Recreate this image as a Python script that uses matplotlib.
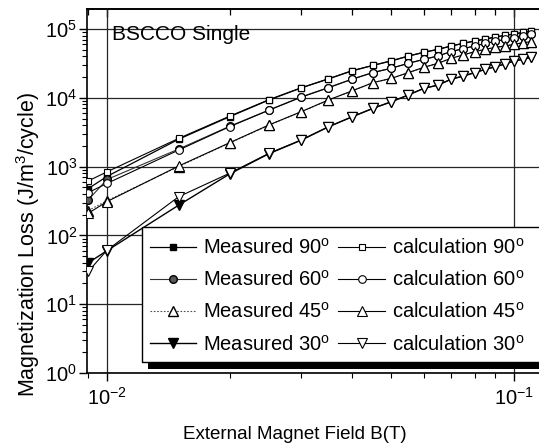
import numpy as np
import matplotlib
matplotlib.use("Agg")
import matplotlib.pyplot as plt
from matplotlib.patches import Rectangle
from matplotlib.ticker import LogLocator, NullFormatter

plt.rcParams['font.family'] = ['Liberation Sans', 'DejaVu Sans']
plt.rcParams['mathtext.fontset'] = 'custom'
plt.rcParams['mathtext.rm'] = 'Liberation Sans'
plt.rcParams['mathtext.it'] = 'Liberation Sans:italic'
plt.rcParams['mathtext.bf'] = 'Liberation Sans:bold'

# data
field = [0.009, 0.01, 0.015, 0.02, 0.025, 0.03, 0.035, 0.04, 0.045, 0.05, 0.055,
         0.06, 0.065, 0.07, 0.075, 0.08, 0.085, 0.09, 0.095, 0.1, 0.105, 0.11]

calc_90 = [620, 840, 2570, 5400, 9400, 14000, 18900, 24800, 29600, 34600, 40500,
           45900, 50700, 56600, 62000, 67000, 71600, 76500, 80900, 84500, 89200, 93400]
calc_60 = [420, 570, 1740, 3800, 6600, 10200, 14000, 18600, 23200, 26900, 31700,
           36100, 40500, 46800, 51700, 56600, 61700, 66000, 70600, 74800, 79600, 84500]
calc_45 = [210, 310, 1020, 2220, 4030, 6280, 9300, 12600, 16600, 19200, 23200,
           27700, 31700, 37500, 41900, 46800, 50700, 54100, 56600, 59800, 63100, 65300]
calc_30 = [30, 61, 365, 800, 1560, 2440, 3800, 5300, 7030, 8780, 11000,
           13700, 15300, 18600, 20700, 23200, 25900, 28300, 31000, 34300, 36200, 38600]

meas_90 = [480, 720, 2500, 5300, 9300, 13900, 18800, 24600, 29500, 34400, 40300,
           45700, 50500, 56400, 61800, 66800, 71400, 76300, 80700, 84300, 89000, 93200]
meas_60 = [330, 650, 1800, 3850, 6650, 10300, 14100, 18700, 23300, 27000, 31800,
           36200, 40600, 46900, 51800, 56700, 61800, 66100, 70700, 74900, 79700, 84600]
meas_45 = [230, 320, 1000, 2200, 4000, 6250, 9250, 12550, 16550, 19150, 23150,
           27650, 31650, 37450, 41850, 46750, 50650, 54050, 56550, 59750, 63050, 65250]
meas_30 = [40, 60, 275, 780, 1540, 2420, 3780, 5280, 7010, 8760, 10980,
           13680, 15280, 18580, 20680, 23180, 25880, 28280, 30980, 34280, 36180, 38580]

angles = ['90', '60', '45', '30']

W, H = 539, 444
fig = plt.figure(figsize=(W / 100, H / 100), dpi=100)
ax = fig.add_axes([87 / W, (H - 373) / H, (541 - 87) / W, (373 - 9) / H])

meas_style = [
    dict(marker='s', mfc='black', mec='black', ms=5, ls='-', color='black', lw=0.9),
    dict(marker='o', mfc='0.35', mec='black', ms=5.5, ls='-', color='0.2', lw=0.8),
    dict(marker='^', mfc='white', mec='black', ms=6.5, ls=(0, (1.5, 1.5)), color='0.3', lw=0.8),
    dict(marker='v', mfc='black', mec='black', ms=6.5, ls='-', color='black', lw=1.0),
]
calc_style = [
    dict(marker='s', mfc='white', mec='black', ms=5, mew=0.8),
    dict(marker='o', mfc='white', mec='black', ms=5.5, mew=0.8),
    dict(marker='^', mfc='white', mec='black', ms=6.5, mew=0.8),
    dict(marker='v', mfc='white', mec='black', ms=6.5, mew=0.8),
]

handles, labels = [], []
for meas, st, ang in zip([meas_90, meas_60, meas_45, meas_30], meas_style, angles):
    h, = ax.plot(field, meas, zorder=3, **st)
    handles.append(h)
    labels.append('Measured ' + ang + r'$^{\mathrm{o}}$')
for calc, st, ang in zip([calc_90, calc_60, calc_45, calc_30], calc_style, angles):
    h, = ax.plot(field, calc, ls='-', color='black', lw=0.8, zorder=4, **st)
    handles.append(h)
    labels.append('calculation ' + ang + r'$^{\mathrm{o}}$')

ax.set_xscale('log')
ax.set_yscale('log')
ax.set_xlim(10 ** (-2 - 20 / 407), 10 ** (-1 + 27 / 407))
ax.set_ylim(1, 10 ** ((373 - 9) / 68.8))
ax.set_xticks([0.01, 0.1])
ax.set_yticks([1, 10, 100, 1000, 1e4, 1e5])
ax.xaxis.set_minor_locator(LogLocator(base=10, subs=np.arange(2, 10)))
ax.yaxis.set_minor_locator(LogLocator(base=10, subs=np.arange(2, 10)))
ax.xaxis.set_minor_formatter(NullFormatter())
ax.yaxis.set_minor_formatter(NullFormatter())

ax.grid(True, which='major', color='0.15', lw=0.9)
ax.tick_params(which='both', direction='out', colors='black', labelsize=14.5)
ax.tick_params(which='major', length=6, width=1)
ax.tick_params(which='minor', length=3.5, width=0.8)
ax.tick_params(axis='x', pad=4)
ax.tick_params(axis='y', pad=1)

top = ax.secondary_xaxis('top')
top.set_xticks([0.01, 0.1])
top.xaxis.set_minor_locator(LogLocator(base=10, subs=np.arange(2, 10)))
top.tick_params(which='both', direction='in', labeltop=False)
top.tick_params(which='major', length=6, width=1)
top.tick_params(which='minor', length=4, width=0.9)
top.spines['top'].set_linewidth(1.2)

for s in ['left', 'bottom', 'top']:
    ax.spines[s].set_linewidth(1.2)
ax.spines['right'].set_visible(False)

ax.set_xlabel('External Magnet Field B(T)', fontsize=13.5)
ax.set_ylabel(r'Magnetization Loss (J/m$^{3}$/cycle)', fontsize=15.5)
ax.xaxis.set_label_coords((295 - 87) / 454, (373 - 434) / 364)
ax.yaxis.set_label_coords((28 - 87) / 454, (373 - 245) / 364)
ax.xaxis.label.set_va('center')
ax.yaxis.label.set_va('center')

ax.text((112 - 87) / 454, (373 - 34) / 364, 'BSCCO Single', transform=ax.transAxes,
        fontsize=15, va='center', ha='left')

# legend box with heavy shadow, partly cut by the figure edge
fig.add_artist(Rectangle((148 / W, 1 - 369 / H), (600 - 148) / W, (369 - 234) / H,
                         transform=fig.transFigure, facecolor='black', edgecolor='none', zorder=2))
fig.add_artist(Rectangle((142 / W, 1 - 362 / H), (600 - 142) / W, (362 - 227) / H,
                         transform=fig.transFigure, facecolor='white', edgecolor='black',
                         lw=1.0, zorder=3))

fig.legend(handles, labels, ncol=2,
           loc='upper left', bbox_to_anchor=(150 / W, 1 - 238 / H), frameon=False,
           fontsize=14.5, handlelength=2.3, handletextpad=0.35, columnspacing=0.4,
           labelspacing=0.6, borderpad=0, borderaxespad=0, numpoints=1)

fig.savefig('out.png', dpi=100)
